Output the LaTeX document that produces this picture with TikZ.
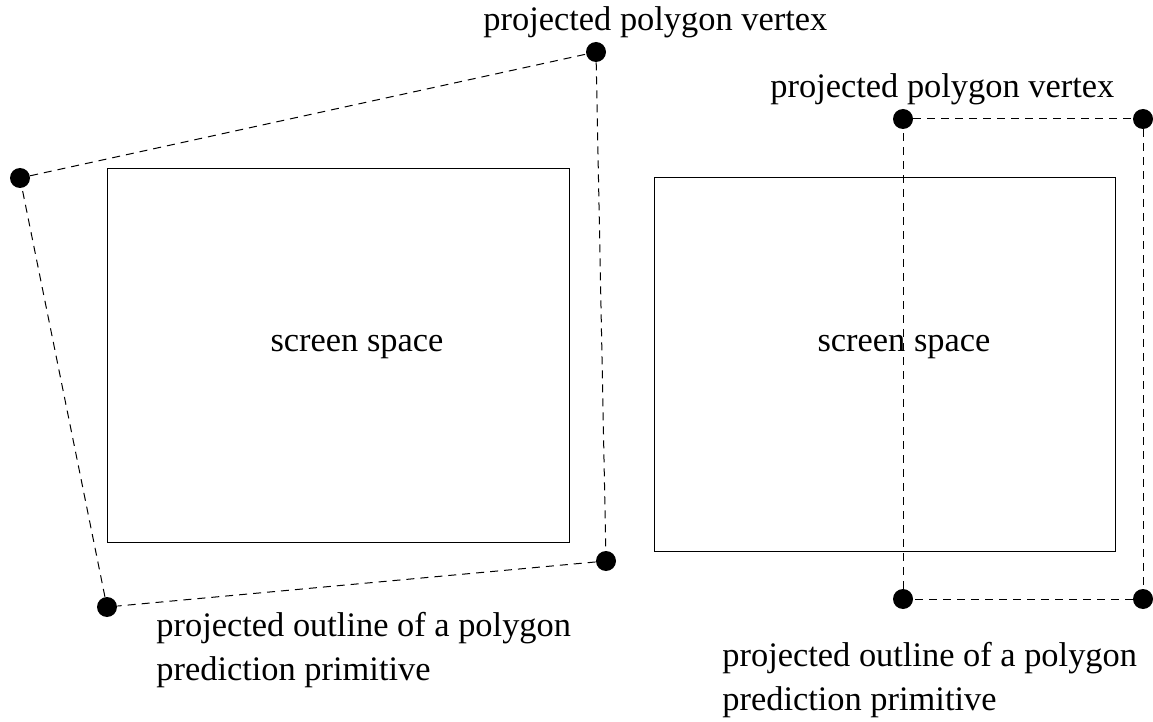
\documentclass[tikz,border=0pt]{standalone}
\usepackage{fontspec}
\setmainfont{Liberation Serif}
\begin{document}
\begin{tikzpicture}[x=0.5pt,y=-0.5pt,
  vertex/.style={circle,fill=black,inner sep=0pt,minimum size=10pt},
  outline/.style={dashed,dash pattern=on 4pt off 3pt,line width=0.5pt},
  screen/.style={draw,line width=0.5pt,inner sep=0pt,anchor=north west},
  lbl/.style={inner sep=0pt,font=\fontsize{17.2}{22}\selectfont,align=left}]
\useasboundingbox (0,0) rectangle (1153,722);

% left: tilted projection of the primitive
\node[screen,minimum width=231pt,minimum height=187pt] (scrL) at (107,168) {};
\node[lbl,anchor=base] (txtL) at (357,351) {screen space};
\node[vertex] (a1) at (20,178) {};
\node[vertex] (a2) at (596,52) {};
\node[vertex] (a3) at (606,561) {};
\node[vertex] (a4) at (107,607) {};
\draw[outline] (a1) -- (a2) -- (a3) -- (a4) -- (a1);
\node[lbl,anchor=base west] (vtxL) at (483,31) {projected polygon vertex};
\node[lbl,anchor=base west] (outL) at (156,680) {projected outline of a polygon\\prediction primitive};

% right: axis-aligned projection of the primitive
\node[screen,minimum width=230.5pt,minimum height=187pt] (scrR) at (654,177) {};
\node[lbl,anchor=base] (txtR) at (904,351) {screen space};
\node[vertex] (b1) at (903,119) {};
\node[vertex] (b2) at (1143,119) {};
\node[vertex] (b3) at (1143,599) {};
\node[vertex] (b4) at (903,599) {};
\draw[outline] (b1) -- (b2) -- (b3) -- (b4) -- (b1);
\node[lbl,anchor=base west] (vtxR) at (770,98) {projected polygon vertex};
\node[lbl,anchor=base west] (outR) at (722,710) {projected outline of a polygon\\prediction primitive};
\end{tikzpicture}
\end{document}
